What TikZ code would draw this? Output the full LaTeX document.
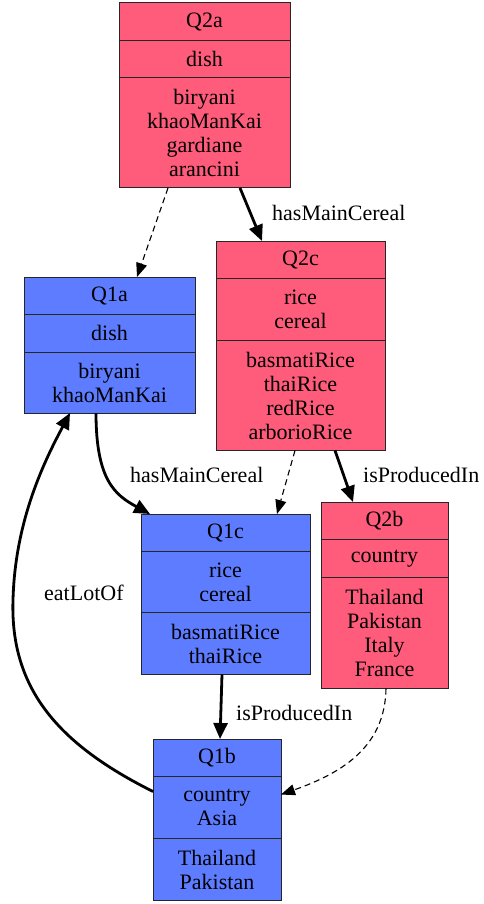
\documentclass[tikz,border=0pt]{standalone}
\usepackage{fontspec}
\setmainfont{Liberation Serif}
\usetikzlibrary{positioning,arrows.meta}
\definecolor{qtwo}{HTML}{FF5B7B}
\definecolor{qone}{HTML}{5E7CFF}
\tikzset{
  cell/.style={draw=black!85, line width=1pt, outer sep=0pt, inner sep=0pt,
    align=center, minimum height=#1, font=\fontsize{22}{24}\selectfont},
  cell/.default=37.5pt,
  link/.style={line width=2.8pt, -{Triangle[length=16pt,width=14pt]}},
  dlink/.style={line width=1.1pt, dash pattern=on 6pt off 4pt,
    -{Triangle[length=14pt,width=11pt]}},
  lbl/.style={inner sep=0pt, anchor=west, font=\fontsize{22}{24}\selectfont}
}
\begin{document}
\begin{tikzpicture}[x=1pt,y=-1pt]
\useasboundingbox (0,0) rectangle (484,904);
% records: name/x/y/width/colour/type/height/values/height
\foreach \n/\x/\y/\w/\c/\ty/\hy/\vs/\hv in {
  Q2a/204.5/3/171/qtwo/dish/37.5/{biryani\\khaoManKai\\gardiane\\arancini}/110,
  Q1a/109.5/277/171/qone/dish/37.5/{biryani\\khaoManKai}/61,
  Q2c/300.5/241/169/qtwo/{rice\\cereal}/62/{basmatiRice\\thaiRice\\redRice\\arborioRice}/110,
  Q1c/225.5/514/169/qone/{rice\\cereal}/61/{basmatiRice\\thaiRice}/62,
  Q2b/384.5/502/127/qtwo/country/38/{Thailand\\Pakistan\\Italy\\France}/111,
  Q1b/217/739/128/qone/{country\\Asia}/62/{Thailand\\Pakistan}/62}{
  \node[cell, fill=\c, minimum width=\w pt, anchor=north] (\n) at (\x,\y) {\n};
  \node[cell=\hy pt, fill=\c, minimum width=\w pt, below=0pt of \n] (\n-type) {\ty};
  \node[cell=\hv pt, fill=\c, minimum width=\w pt, below=0pt of \n-type] (\n-vals) {\vs};
}
% edges
\draw[dlink] ([xshift=-36.5pt]Q2a-vals.south) -- ([xshift=27.5pt]Q1a.north);
\draw[link] ([xshift=35.5pt]Q2a-vals.south) -- ([xshift=-38.5pt]Q2c.north);
\draw[link] ([xshift=-13.5pt]Q1a-vals.south) .. controls (96,480) and (115,495) .. ([xshift=-75.5pt]Q1c.north);
\draw[dlink] ([xshift=-5.5pt]Q2c-vals.south) -- ([xshift=51.5pt]Q1c.north);
\draw[link] ([xshift=34.5pt]Q2c-vals.south) -- ([xshift=-31.5pt]Q2b.north);
\draw[link] ([xshift=-3.5pt]Q1c-vals.south) -- ([xshift=3pt]Q1b.north);
\draw[dlink] ([xshift=1.5pt]Q2b-vals.south) .. controls (385,745) and (345,772) .. ([yshift=13pt]Q1b-type.east);
\draw[link] ([yshift=16pt]Q1b-type.west) .. controls (60,745) and (10,690) .. (13,600)
  .. controls (15,520) and (45,460) .. ([xshift=-39.5pt]Q1a-vals.south);
% labels
\node[lbl] (main2) at (272,213) {hasMainCereal};
\node[lbl] (main1) at (130,475) {hasMainCereal};
\node[lbl] (prod2) at (363,475) {isProducedIn};
\node[lbl] (prod1) at (236,713) {isProducedIn};
\node[lbl] (eat) at (44,593) {eatLotOf};
\end{tikzpicture}
\end{document}
